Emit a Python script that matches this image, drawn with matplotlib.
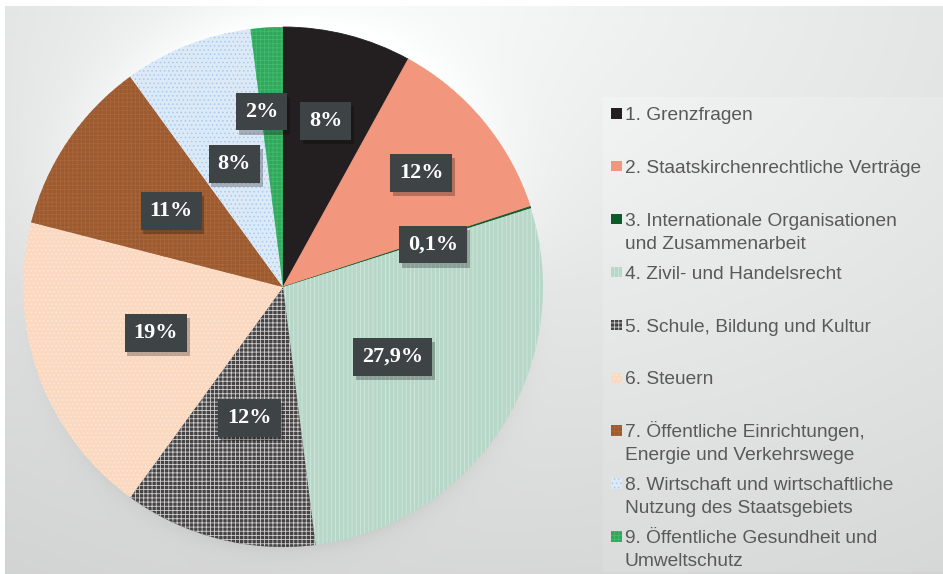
import numpy as np
import matplotlib
matplotlib.use("Agg")
import matplotlib.pyplot as plt
from matplotlib.patches import Rectangle
from matplotlib import patheffects

# data
values = [8, 12, 0.1, 27.9, 12, 19, 11, 8, 2]
pct_labels = ["8%", "12%", "0,1%", "27,9%", "12%", "19%", "11%", "8%", "2%"]
categories = [
    "1. Grenzfragen",
    "2. Staatskirchenrechtliche Verträge",
    "3. Internationale Organisationen\nund Zusammenarbeit",
    "4. Zivil- und Handelsrecht",
    "5. Schule, Bildung und Kultur",
    "6. Steuern",
    "7. Öffentliche Einrichtungen,\nEnergie und Verkehrswege",
    "8. Wirtschaft und wirtschaftliche\nNutzung des Staatsgebiets",
    "9. Öffentliche Gesundheit und\nUmweltschutz",
]

# styles
face = ["#231f20", "#f2967d", "#0d5b2b", "#b7d7c8", "#464344",
        "#fbd9c1", "#9b5a2f", "#dce9f6", "#2ea95b"]
hatch_col = ["#231f20", "#f2967d", "#0d5b2b", "#d2e7dc", "#cfcfcf",
             "#fde8d8", "#a9663a", "#a8cbee", "#45b870"]
hatches = [None, None, None, "||||", "++++", "....", "++++", "....", "++++"]
label_r = [0.66, 0.69, 0.60, 0.50, 0.52, 0.52, 0.52, 0.51, 0.68]
label_shift = [0, 0, -2, 0, 0, 0, 0, 0, 3.4]

plt.rcParams["hatch.linewidth"] = 0.6

W, H = 943, 574
fig = plt.figure(figsize=(W / 100, H / 100), dpi=100)

# background panel with soft gradient
bg = fig.add_axes([0, 0, 1, 1], zorder=0)
yy, xx = np.mgrid[0:H, 0:W].astype(float)
d = np.sqrt(((xx - 480) / 1.4) ** 2 + (yy + 20) ** 2)
val = 0.965 - 0.15 * (d / 750)
cx, cy, R = 283, 287, 260
rr = np.sqrt((xx - cx) ** 2 + (yy - cy) ** 2)
out = np.clip(rr - R, 0, None)
up = np.clip(-(yy - cy) / np.maximum(rr, 1), 0, 1)
down = np.clip((yy - cy) / np.maximum(rr, 1), 0, 1)
val += 0.07 * np.exp(-out / 45) * up
val -= 0.05 * np.exp(-out / 10) * down
panel = (xx >= 603) & (yy >= 97) & (yy <= 571)
val[panel] += 0.015
val = np.clip(val, 0, 1)
img = np.dstack([val - 0.003, val, val])
img[:6, :] = 1
img[:, :5] = 1
bg.imshow(np.clip(img, 0, 1), extent=[0, 1, 0, 1], aspect="auto",
          transform=bg.transAxes)
bg.axis("off")

# pie
ax = fig.add_axes([(cx - R) / W, (H - cy - R) / H, 2 * R / W, 2 * R / H], zorder=1)
wedges, _ = ax.pie(values, startangle=90, counterclock=False, radius=1,
                   colors=face, wedgeprops=dict(linewidth=0))
for w, h, hc in zip(wedges, hatches, hatch_col):
    w.set_edgecolor(hc)
    if h:
        w.set_hatch(h)
        w.set_linewidth(0)
    else:
        w.set_linewidth(0.6)
ax.set_xlim(-1, 1)
ax.set_ylim(-1, 1)
ax.axis("off")

for w, txt, r, s in zip(wedges, pct_labels, label_r, label_shift):
    ang = np.deg2rad((w.theta1 + w.theta2) / 2 + s)
    x, y = r * np.cos(ang), r * np.sin(ang)
    t = ax.text(x, y, txt, ha="center", va="center", color="white",
                fontsize=16, fontweight="bold", family="Liberation Serif",
                bbox=dict(boxstyle="square,pad=0.4", fc="#3e4345", ec="none"))
    t.get_bbox_patch().set_path_effects(
        [patheffects.withSimplePatchShadow(offset=(2, -3), shadow_rgbFace="black", alpha=0.25)])

# legend drawn by hand so every entry keeps the same step
for i, lab in enumerate(categories):
    yc = 113 + 52.9 * i
    fig.patches.append(Rectangle((611 / W, 1 - (yc + 5.5) / H), 10.5 / W, 10.5 / H,
                                 transform=fig.transFigure, facecolor=face[i],
                                 edgecolor=hatch_col[i], hatch=hatches[i],
                                 linewidth=0, zorder=3))
    for k, line in enumerate(lab.split("\n")):
        fig.text(625 / W, 1 - (yc + 7 + 23 * k) / H, line, ha="left", va="baseline",
                 fontsize=13.8, color="#595959", family="Liberation Sans", zorder=3)

fig.savefig("out.png", dpi=100)
